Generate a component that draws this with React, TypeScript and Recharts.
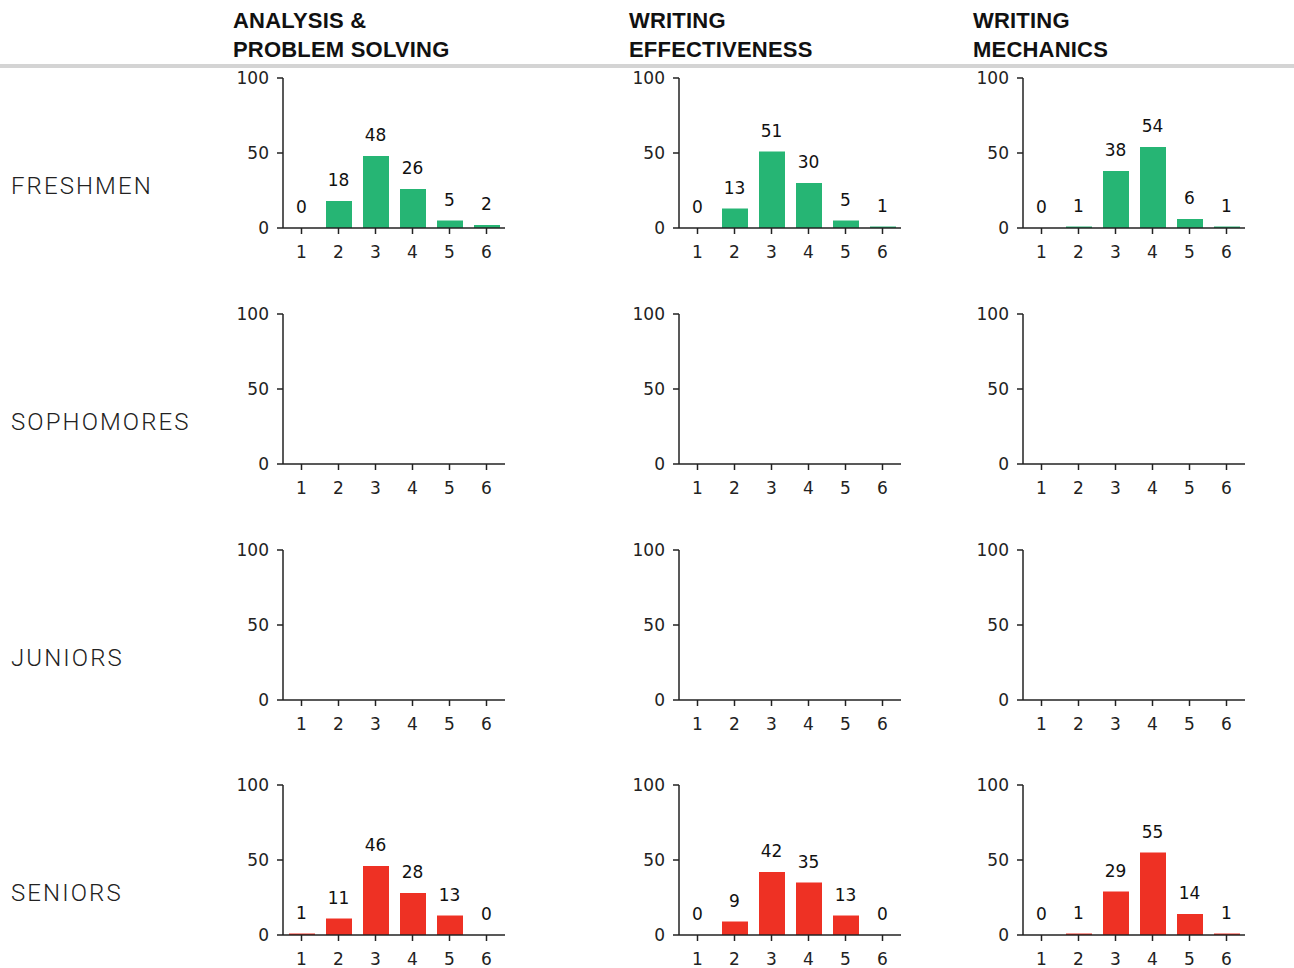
import React from "react";
import { ComposedChart, Bar, Line, XAxis, YAxis, LabelList } from "recharts";

const scores = ["1", "2", "3", "4", "5", "6"];
const skills = ["ANALYSIS &\nPROBLEM SOLVING", "WRITING\nEFFECTIVENESS", "WRITING\nMECHANICS"];
const classes = ["FRESHMEN", "SOPHOMORES", "JUNIORS", "SENIORS"];
const yTicks = [0, 50, 100];

const freshmenAPS = [0, 18, 48, 26, 5, 2];
const freshmenWE = [0, 13, 51, 30, 5, 1];
const freshmenWM = [0, 1, 38, 54, 6, 1];
const seniorsAPS = [1, 11, 46, 28, 13, 0];
const seniorsWE = [0, 9, 42, 35, 13, 0];
const seniorsWM = [0, 1, 29, 55, 14, 1];
const noValues: (number | null)[] = [null, null, null, null, null, null];

const GREEN = "#26b574";
const RED = "#ee3124";

const rowSeries: (number | null)[][][] = [
  [freshmenAPS, freshmenWE, freshmenWM],
  [noValues, noValues, noValues],
  [noValues, noValues, noValues],
  [seniorsAPS, seniorsWE, seniorsWM],
];
const rowColors = [GREEN, GREEN, GREEN, RED];

const colLeft = [283, 679, 1023];
const rowTop = [78, 314, 550, 785];
const PLOT_W = 222;
const PLOT_H = 150;
const M_TOP = 20;
const Y_W = 60;
const M_RIGHT = 15;
const X_H = 40;

const tickFont = { fontFamily: "DejaVu Sans", fontSize: 17, fill: "#222" };

function Panel({ values, color }: { values: (number | null)[]; color: string }) {
  const data = scores.map((s, i) => ({ score: s, value: values[i] }));
  return (
    <ComposedChart
      width={Y_W + PLOT_W + M_RIGHT}
      height={M_TOP + PLOT_H + X_H}
      data={data}
      margin={{ top: M_TOP, right: M_RIGHT, left: 0, bottom: 0 }}
    >
      <XAxis
        dataKey="score"
        height={X_H}
        axisLine={{ stroke: "#222", strokeWidth: 1.5 }}
        tickLine={{ stroke: "#222", strokeWidth: 1.5 }}
        tickSize={6}
        tickMargin={12}
        tick={tickFont}
        interval={0}
      />
      <YAxis
        type="number"
        width={Y_W}
        domain={[0, 100]}
        allowDataOverflow
        ticks={yTicks}
        axisLine={{ stroke: "#222", strokeWidth: 1.5 }}
        tickLine={{ stroke: "#222", strokeWidth: 1.5 }}
        tickSize={6}
        tickMargin={8}
        tick={tickFont}
        interval={0}
      />
      <Bar dataKey="value" fill={color} barSize={26} isAnimationActive={false} />
      <Line
        dataKey="value"
        stroke="none"
        dot={false}
        activeDot={false}
        isAnimationActive={false}
        legendType="none"
      >
        <LabelList
          dataKey="value"
          position="top"
          offset={15}
          style={{ fontFamily: "DejaVu Sans", fontSize: 17, fill: "#111" }}
        />
      </Line>
    </ComposedChart>
  );
}

export default function App() {
  return (
    <div style={{ position: "absolute", left: 0, top: 0, width: 1294, height: 968, background: "#fff" }}>
      {skills.map((s, c) => (
        <div
          key={s}
          style={{
            position: "absolute",
            left: colLeft[c] - 50,
            top: 6,
            fontFamily: "Liberation Sans",
            fontWeight: 700,
            fontSize: 22,
            letterSpacing: 0.2,
            lineHeight: "29px",
            color: "#111",
            whiteSpace: "pre",
          }}
        >
          {s}
        </div>
      ))}
      <div style={{ position: "absolute", left: 0, top: 64, width: 1294, height: 4, background: "#d4d4d4" }} />
      {classes.map((name, r) => (
        <div
          key={name}
          style={{
            position: "absolute",
            left: 11,
            top: rowTop[r] + 94,
            fontFamily: "Roboto",
            fontWeight: 300,
            fontSize: 24,
            letterSpacing: 2.1,
            color: "#222",
            whiteSpace: "nowrap",
          }}
        >
          {name}
        </div>
      ))}
      {rowSeries.map((row, r) =>
        row.map((vals, c) => (
          <div
            key={`${r}-${c}`}
            style={{ position: "absolute", left: colLeft[c] - Y_W, top: rowTop[r] - M_TOP }}
          >
            <Panel values={vals} color={rowColors[r]} />
          </div>
        ))
      )}
    </div>
  );
}
